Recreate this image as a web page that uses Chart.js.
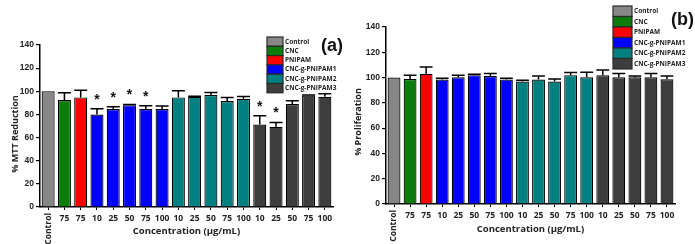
<!DOCTYPE html>
<html lang="en">
<head>
<meta charset="UTF-8"/>
<title>MTT reduction and proliferation</title>
<script src="https://cdn.jsdelivr.net/npm/chart.js"></script>
<style>
  body { margin: 0; background: #fff; }
  .wrap { display: flex; width: 695px; height: 244px; }
  canvas { display: block; }
</style>
</head>
<body>
<div class="wrap">
  <canvas id="mtt" width="345" height="244"></canvas>
  <canvas id="prolif" width="350" height="244"></canvas>
</div>
<script>
  // categories along the x axis (concentration, ug/mL)
  const categories = ['Control', '75', '75', '10', '25', '50', '75', '100', '10', '25', '50', '75', '100', '10', '25', '50', '75', '100'];
  const groups = ['Control', 'CNC', 'PNIPAM', 'CNC-g-PNIPAM1', 'CNC-g-PNIPAM2', 'CNC-g-PNIPAM3'];
  const groupColors = ['#878787', '#0a7d0a', '#ff0000', '#0000ff', '#008080', '#3d3d3d'];
  const barGroup = [0, 1, 2, 3, 3, 3, 3, 3, 4, 4, 4, 4, 4, 5, 5, 5, 5, 5];

  // (a) % MTT reduction
  const mttMeans = [100, 92.4, 94.7, 80, 84.6, 88, 84.6, 84.6, 94.7, 95.3, 96.7, 91.5, 93.5, 71.3, 69.3, 89, 96.4, 95.3];
  const mttErrors = [0, 6.3, 6.3, 5, 2, 0.5, 2.9, 2.6, 5.8, 0.4, 2.3, 3.2, 2, 7.5, 3.7, 2.8, 0.4, 2.6];
  const mttSignificant = [3, 4, 5, 6, 13, 14];

  // (b) % proliferation
  const prolifMeans = [100, 98.9, 102.9, 98.4, 100.3, 101.9, 101.3, 98.4, 96.8, 98.4, 96.8, 101.9, 100.3, 101.9, 100.3, 100.3, 100.3, 98.7];
  const prolifErrors = [0, 3, 5.4, 1.1, 1.6, 0.8, 1.9, 1.1, 1.1, 2.9, 2.1, 2.1, 4, 4, 2.9, 1, 2.9, 2.6];
  const prolifSignificant = [];

  const yMin = 0, yMax = 140, yStep = 20;

  const extras = {
    id: 'extras',
    afterDatasetsDraw(chart, args, opts) {
      const ctx = chart.ctx;
      const x = chart.scales.x, y = chart.scales.y;
      const meta = chart.getDatasetMeta(0);
      ctx.save();

      // error bars (upper half only)
      ctx.strokeStyle = '#000';
      ctx.lineWidth = 1.5;
      opts.means.forEach((m, i) => {
        const e = opts.errors[i];
        if (!e) return;
        const bar = meta.data[i];
        const top = y.getPixelForValue(m + e);
        ctx.beginPath();
        ctx.moveTo(bar.x, y.getPixelForValue(m));
        ctx.lineTo(bar.x, top);
        ctx.moveTo(bar.x - bar.width / 2, top);
        ctx.lineTo(bar.x + bar.width / 2, top);
        ctx.stroke();
      });

      // significance stars
      ctx.fillStyle = '#111';
      ctx.font = 'bold 14px "Liberation Sans"';
      ctx.textAlign = 'center';
      ctx.textBaseline = 'middle';
      opts.stars.forEach(i => {
        const bar = meta.data[i];
        const top = y.getPixelForValue(opts.means[i] + opts.errors[i]);
        ctx.fillText('*', bar.x, top - 9);
      });

      // y axis title
      ctx.save();
      ctx.font = 'bold 9px "Open Sans"';
      ctx.fillStyle = '#222';
      ctx.translate(opts.yTitle.x, opts.yTitle.y);
      ctx.rotate(-Math.PI / 2);
      ctx.fillText(opts.yTitle.text, 0, 0);
      ctx.restore();

      // rotated first category label
      ctx.font = 'bold 8.5px "Open Sans"';
      ctx.fillStyle = '#222';
      ctx.translate(x.getPixelForValue(0), x.bottom - x.height + 6);
      ctx.rotate(-Math.PI / 2);
      ctx.textAlign = 'right';
      ctx.fillText(categories[0], 0, 0);
      ctx.restore();

      // legend
      ctx.save();
      const lg = opts.legend;
      ctx.font = 'bold ' + lg.font + 'px "Open Sans"';
      ctx.textAlign = 'left';
      ctx.textBaseline = 'middle';
      groups.forEach((g, i) => {
        const top = lg.y + i * lg.rowH;
        ctx.fillStyle = groupColors[i];
        ctx.fillRect(lg.x, top, lg.boxW, lg.rowH);
        ctx.strokeStyle = '#2a2a2a';
        ctx.lineWidth = 1.2;
        ctx.strokeRect(lg.x, top, lg.boxW, lg.rowH);
        ctx.fillStyle = '#222';
        ctx.fillText(g, lg.x + lg.boxW + 2, top + lg.rowH / 2);
      });

      // panel letter
      ctx.font = 'bold 18px "Liberation Sans"';
      ctx.fillStyle = '#111';
      ctx.fillText(opts.letter.text, opts.letter.x, opts.letter.y);
      ctx.restore();
    }
  };

  function makeChart(id, means, errors, stars, yTitle, box) {
    return new Chart(document.getElementById(id), {
      type: 'bar',
      data: {
        labels: categories,
        datasets: [{
          data: means,
          backgroundColor: barGroup.map(g => groupColors[g]),
          borderColor: '#000',
          borderWidth: 1.2,
          barPercentage: 0.8,
          categoryPercentage: 1
        }]
      },
      options: {
        responsive: false,
        animation: false,
        layout: { padding: { top: box.top, right: box.right, left: 0, bottom: 0 } },
        plugins: {
          legend: { display: false },
          tooltip: { enabled: false },
          extras: {
            means, errors, stars, legend: box.legend, letter: box.letter,
            yTitle: { text: yTitle, x: box.yTitleX, y: box.yTitleY }
          }
        },
        scales: {
          x: {
            offset: true,
            ticks: {
              autoSkip: false, maxRotation: 0, minRotation: 0, padding: 3, color: '#222',
              font: { family: 'Open Sans', weight: 'bold', size: 8.5 },
              callback: (v, i) => i === 0 ? '' : categories[i]
            },
            grid: { offset: false, drawOnChartArea: false, tickLength: 3, color: '#000' },
            border: { display: true, color: '#000', width: 1.5 },
            title: {
              display: true, text: 'Concentration (µg/mL)', color: '#222',
              font: { family: 'Open Sans', weight: 'bold', size: 9.5 },
              padding: { top: 0, bottom: box.xTitlePad }
            },
            afterFit: s => { s.height = box.xHeight; }
          },
          y: {
            min: yMin, max: yMax,
            ticks: { stepSize: yStep, padding: 2, color: '#222', font: { family: 'Liberation Sans', weight: 'bold', size: 8.5 } },
            grid: { drawOnChartArea: false, drawTicks: true, tickLength: 4, color: '#000', lineWidth: 1.2 },
            border: { display: true, color: '#000', width: 1.5 },
            title: { display: false },
            afterFit: s => { s.width = box.yWidth; }
          }
        }
      },
      plugins: [extras]
    });
  }

  makeChart('mtt', mttMeans, mttErrors, mttSignificant, '% MTT Reduction', {
    top: 45, right: 12, xHeight: 37, yWidth: 40, xTitlePad: 7, yTitleX: 15, yTitleY: 134,
    legend: { x: 267, y: 37, boxW: 16, rowH: 9.3, font: 6.5 },
    letter: { text: '(a)', x: 321, y: 46 }
  });

  makeChart('prolif', prolifMeans, prolifErrors, prolifSignificant, '% Proliferation', {
    top: 27, right: 20, xHeight: 40, yWidth: 41, xTitlePad: 9, yTitleX: 13, yTitleY: 122,
    legend: { x: 268, y: 6, boxW: 19, rowH: 10.5, font: 6.5 },
    letter: { text: '(b)', x: 326, y: 20 }
  });
</script>
</body>
</html>
